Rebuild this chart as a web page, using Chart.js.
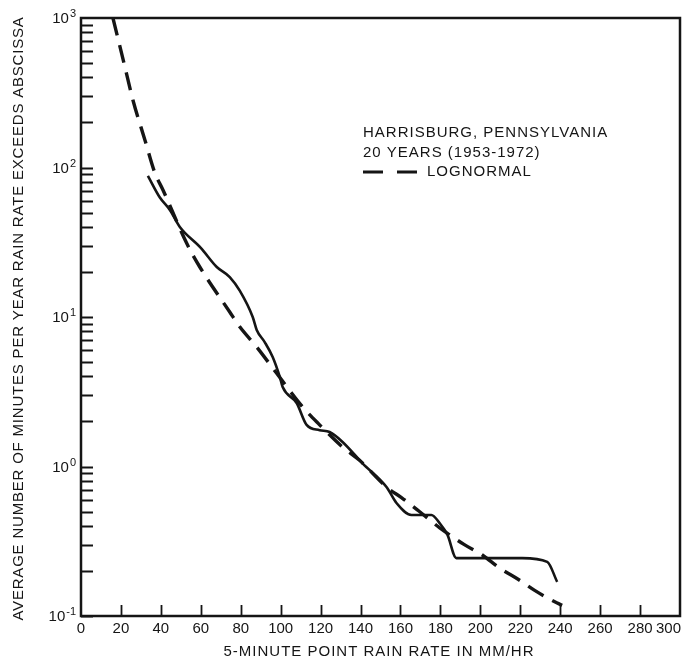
<!DOCTYPE html>
<html>
<head>
<meta charset="utf-8">
<script src="https://cdn.jsdelivr.net/npm/chart.js@4/dist/chart.umd.min.js"></script>
<style>
  html, body { margin: 0; padding: 0; background: #fff; }
  #wrap { width: 686px; height: 663px; }
</style>
</head>
<body>
<div id="wrap"><canvas id="chart"></canvas></div>
<script>
'use strict';

// ── データ───────────────────────────────────────
// 実測（実線）
const measuredRate    = [33.5, 39.5, 44.5, 49.5, 60, 68, 74.5, 79.5, 86, 88, 92, 96, 99.5, 101, 108, 113, 119.5, 124.5, 131, 141, 153, 158, 165.5, 175.5, 179.5, 183.5, 188, 221, 233.5, 238.5];
const measuredMinutes = [88, 63, 52, 40, 29, 21.6, 18.5, 15, 10, 8.2, 6.8, 5.4, 4.0, 3.4, 2.66, 1.9, 1.75, 1.7, 1.46, 1.05, 0.73, 0.57, 0.474, 0.474, 0.42, 0.35, 0.244, 0.244, 0.23, 0.169];

// 対数正規（破線）
const lognormRate    = [16, 22, 26, 32, 37, 41, 53, 59.5, 74.5, 79.5, 88, 98, 111, 119.5, 131, 139.5, 153.5, 160.5, 169.5, 179.5, 184.5, 192, 201, 209.5, 219.5, 227, 238.5, 241];
const lognormMinutes = [1000, 470, 283, 153, 92, 71, 31, 21.6, 10.8, 8.6, 6.3, 4.2, 2.5, 1.9, 1.35, 1.1, 0.72, 0.62, 0.5, 0.39, 0.35, 0.3, 0.256, 0.21, 0.174, 0.149, 0.122, 0.118];

// 軸
const xTickValues = [0, 20, 40, 60, 80, 100, 120, 140, 160, 180, 200, 220, 240, 260, 280, 300];
const xTickLabels = ['0', '20', '40', '60', '80', '100', '120', '140', '160', '180', '200', '220', '240', '260', '280', '300'];
const yTickValues = [0.1, 1, 10, 100, 1000];
const yTickBase = '10';
const yTickExponents = ['-1', '0', '1', '2', '3'];

const legendLines = ['HARRISBURG, PENNSYLVANIA', '20 YEARS (1953-1972)'];
const legendLabel = 'LOGNORMAL';
const xTitle = '5-MINUTE POINT RAIN RATE IN MM/HR';
const yTitle = 'AVERAGE NUMBER OF MINUTES PER YEAR RAIN RATE EXCEEDS ABSCISSA';

const INK = '#151515';
const FONT = '"Liberation Sans", Arial, Helvetica, sans-serif';

const toPoints = (xs, ys) => xs.map((x, i) => ({ x, y: ys[i] }));

// 対数軸の補助目盛（1〜9）
const yMinorValues = [];
for (let d = 0; d < yTickValues.length - 1; d++) {
  for (let k = 1; k <= 9; k++) yMinorValues.push(yTickValues[d] * k);
}

// ── 枠・目盛・ラベル・凡例・軸タイトル ───────────────────
const framePlugin = {
  id: 'frame',
  afterDraw(chart) {
    const { ctx, chartArea: a, scales: { x, y } } = chart;
    ctx.save();
    ctx.strokeStyle = INK;
    ctx.fillStyle = INK;
    ctx.lineWidth = 2.5;
    ctx.strokeRect(a.left, a.top, a.right - a.left, a.bottom - a.top);

    // 内向き目盛
    ctx.lineWidth = 1.8;
    ctx.beginPath();
    xTickValues.slice(1, -1).forEach(v => {
      const px = Math.round(x.getPixelForValue(v)) + 0.5;
      ctx.moveTo(px, a.bottom);
      ctx.lineTo(px, a.bottom - 11);
    });
    yMinorValues.forEach(v => {
      const py = Math.round(y.getPixelForValue(v)) + 0.5;
      ctx.moveTo(a.left, py);
      ctx.lineTo(a.left + 12, py);
    });
    ctx.stroke();

    // 横軸ラベル（最後は右寄せ）
    ctx.font = '15px ' + FONT;
    ctx.textBaseline = 'middle';
    xTickValues.forEach((v, i) => {
      const last = i === xTickValues.length - 1;
      ctx.textAlign = last ? 'right' : 'center';
      ctx.fillText(xTickLabels[i], x.getPixelForValue(v) + (last ? 1 : 0), a.bottom + 13);
    });

    // 縦軸ラベル 10^n
    yTickValues.forEach((v, i) => {
      const py = y.getPixelForValue(v);
      ctx.textAlign = 'right';
      ctx.font = '11px ' + FONT;
      const ew = ctx.measureText(yTickExponents[i]).width;
      ctx.fillText(yTickExponents[i], 76, py - 4);
      ctx.font = '15px ' + FONT;
      ctx.fillText(yTickBase, 76 - ew - 1, py + 1);
    });

    // 凡例
    ctx.textAlign = 'left';
    ctx.font = '15px ' + FONT;
    ctx.letterSpacing = '1px';
    const lx = 363, ly = 133;
    legendLines.forEach((t, i) => ctx.fillText(t, lx, ly + i * 19.5));
    ctx.lineWidth = 3;
    ctx.beginPath();
    ctx.moveTo(lx, ly + 39); ctx.lineTo(lx + 20, ly + 39);
    ctx.moveTo(lx + 34, ly + 39); ctx.lineTo(lx + 54, ly + 39);
    ctx.stroke();
    ctx.fillText(legendLabel, lx + 64, ly + 39);

    // 横軸タイトル
    ctx.textAlign = 'center';
    ctx.fillText(xTitle, 379, 652);

    // 縦軸タイトル
    ctx.translate(19, 318.5);
    ctx.rotate(-Math.PI / 2);
    ctx.font = '15px ' + FONT;
    ctx.letterSpacing = '0.8px';
    ctx.fillText(yTitle, 0, 0);
    ctx.restore();
  }
};

new Chart(document.getElementById('chart').getContext('2d'), {
  type: 'line',
  data: {
    datasets: [
      {
        label: 'MEASURED',
        data: toPoints(measuredRate, measuredMinutes),
        borderColor: INK,
        borderWidth: 2.6,
        pointRadius: 0,
        cubicInterpolationMode: 'monotone',
        fill: false,
      },
      {
        label: legendLabel,
        data: toPoints(lognormRate, lognormMinutes),
        borderColor: INK,
        borderWidth: 3.4,
        borderDash: [18, 10],
        pointRadius: 0,
        cubicInterpolationMode: 'monotone',
        fill: false,
      },
    ],
  },
  options: {
    responsive: true,
    maintainAspectRatio: false,
    animation: false,
    events: [],
    layout: { padding: { left: 0, right: 6, top: 18, bottom: 0 } },
    plugins: {
      legend: { display: false },
      tooltip: { enabled: false },
    },
    scales: {
      x: {
        type: 'linear',
        min: 0,
        max: 300,
        grid: { display: false, drawTicks: false },
        border: { display: false },
        afterBuildTicks: s => { s.ticks = xTickValues.map(v => ({ value: v })); },
        afterFit: s => { s.height = 47; s.paddingLeft = 0; s.paddingRight = 0; },
        ticks: { display: false },
      },
      y: {
        type: 'logarithmic',
        min: 0.1,
        max: 1000,
        grid: { display: false, drawTicks: false },
        border: { display: false },
        afterBuildTicks: s => { s.ticks = yTickValues.map(v => ({ value: v })); },
        afterFit: s => { s.width = 81; s.paddingTop = 0; s.paddingBottom = 0; },
        ticks: { display: false },
      },
    },
  },
  plugins: [framePlugin],
});
</script>
</body>
</html>
